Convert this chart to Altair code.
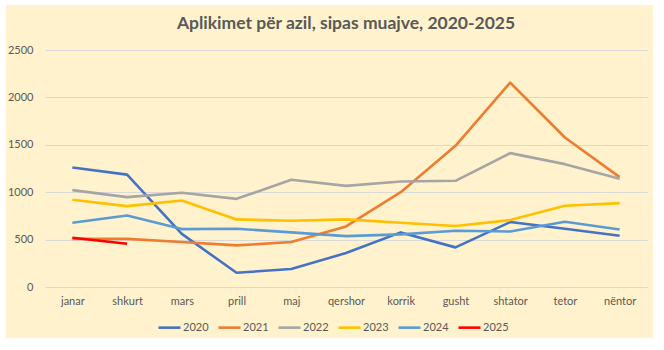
import altair as alt
import pandas as pd

months = ["janar", "shkurt", "mars", "prill", "maj", "qershor", "korrik",
          "gusht", "shtator", "tetor", "nëntor"]
years = ["2020", "2021", "2022", "2023", "2024", "2025"]

v2020 = [1260, 1185, 560, 150, 190, 358, 576, 418, 685, 614, 541]
v2021 = [508, 508, 474, 439, 474, 639, 1000, 1489, 2156, 1577, 1159]
v2022 = [1022, 948, 994, 930, 1131, 1067, 1113, 1120, 1412, 1296, 1141]
v2023 = [920, 853, 913, 713, 699, 713, 678, 643, 706, 857, 885]
v2024 = [678, 755, 611, 615, 576, 537, 555, 593, 586, 688, 607]
v2025 = [520, 457]

colors = ["#4472C4", "#ED7D31", "#A5A5A5", "#FFC000", "#5B9BD5", "#FF0000"]
widths = [2.6, 2.6, 2.6, 2.6, 2.6, 5]

rows = []
for y, vals in zip(years, [v2020, v2021, v2022, v2023, v2024, v2025]):
    for i, v in enumerate(vals):
        rows.append({"muaji": months[i], "viti": y, "vlera": v, "ord": i})
df = pd.DataFrame(rows)

font = "Lato"
txt = "#595959"

lines = alt.Chart(df).mark_line(strokeCap="butt", strokeJoin="round").encode(
    x=alt.X("muaji:N", sort=months, title=None,
            scale=alt.Scale(paddingInner=0, paddingOuter=0.5),
            axis=alt.Axis(labelAngle=0, ticks=False, domain=False, grid=False,
                          labelPadding=8, labelFontSize=11, labelColor=txt,
                          labelFont=font)),
    y=alt.Y("vlera:Q", title=None,
            scale=alt.Scale(domain=[0, 2500], nice=False),
            axis=alt.Axis(values=[0, 500, 1000, 1500, 2000, 2500], ticks=False,
                          domain=False, gridColor="#D9D9D9", gridWidth=1,
                          format="d",
                          labelPadding=12, labelFontSize=11, labelColor=txt,
                          labelFont=font)),
    color=alt.Color("viti:N", scale=alt.Scale(domain=years, range=colors),
                    title=None,
                    legend=alt.Legend(orient="none", direction="horizontal",
                                      legendX=112, legendY=265,
                                      symbolType="stroke", symbolSize=484,
                                      symbolStrokeWidth=2.6, labelFontSize=11,
                                      labelColor=txt, labelFont=font,
                                      columnPadding=4, labelOffset=1)),
    strokeWidth=alt.StrokeWidth("viti:N", scale=alt.Scale(domain=years, range=widths),
                                legend=None),
    order=alt.Order("ord:Q"),
)

frame = alt.Chart(alt.Data(values=[{}])).mark_rect(
    fill=None, stroke="white", strokeWidth=12
).encode(
    x=alt.value(-45), x2=alt.value(614), y=alt.value(-51), y2=alt.value(294)
)

chart = alt.layer(lines, frame).properties(
    width=602, height=237,
    title=alt.TitleParams("Aplikimet për azil, sipas muajve, 2020-2025",
                          font=font, fontSize=17.5, fontWeight="bold",
                          color=txt, anchor="middle", frame="group",
                          offset=0, dy=39),
    background="#FFF2CC",
    padding={"left": 45, "top": 50, "right": 17, "bottom": 63},
    autosize=alt.AutoSizeParams(type="none"),
).configure_view(stroke=None)

chart.save("out.html", embed_options={"renderer": "svg", "actions": False})
